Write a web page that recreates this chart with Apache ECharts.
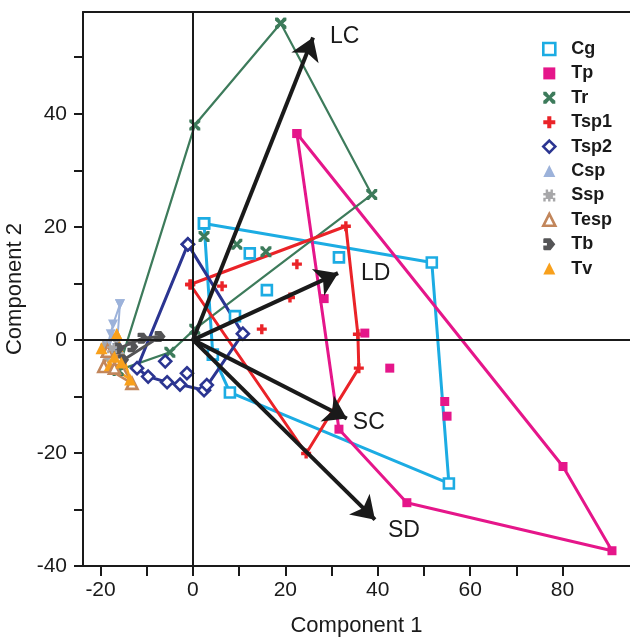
<!DOCTYPE html>
<html><head><meta charset="utf-8">
<script src="https://cdn.jsdelivr.net/npm/echarts@6/dist/echarts.min.js"></script>
<style>html,body{margin:0;padding:0;background:#fff}#c{width:630px;height:638px}</style>
</head><body><div id="c"></div>
<script>
// ---- data ----
var groups = ['Cg','Tp','Tr','Tsp1','Tsp2','Csp','Ssp','Tesp','Tb','Tv'];
var CgHull = [[2.4,20.6],[51.7,13.7],[55.4,-25.4],[8,-9.3],[4.3,-2.6],[2.4,20.6]];
var CgPts = [[12.3,15.3],[31.6,14.6],[16,8.8],[9.1,4.2]];
var TpHull = [[22.5,36.5],[80.1,-22.4],[90.7,-37.3],[46.3,-28.8],[31.6,-15.8],[22.5,36.5]];
var TpPts = [[28.4,7.3],[37.2,1.2],[42.6,-5],[54.5,-10.9],[55,-13.5]];
var TrHull = [[19,56],[38.7,25.7],[0.4,1.9],[-5,-2.2],[-16.2,-5.4],[0.4,38],[19,56]];
var TrPts = [[2.4,18.3],[9.5,16.9],[15.8,15.6]];
var Tsp1Hull = [[-0.6,9.8],[33.1,20.1],[35.7,1],[35.9,-5],[24.5,-20.1],[-0.6,9.8]];
var Tsp1Pts = [[6.3,9.5],[14.9,1.9],[21,7.5],[22.5,13.4]];
var Tsp2Hull = [[-1.1,16.9],[10.8,1.1],[2.4,-8.9],[-2.8,-7.9],[-5.6,-7.5],[-9.7,-6.5],[-12.1,-5],[-1.1,16.9]];
var Tsp2Pts = [[-6,-3.8],[-1.3,-5.9],[3,-8]];
var CspHull = [[-15.8,6.3],[-17.3,2.7],[-18.5,-1],[-16.5,-1.5],[-15.8,6.3]];
var CspPts = [[-17.8,1]];
var SspHull = [[-17,0.5],[-19,-1],[-18.5,-3],[-16,-2.5],[-17,0.5]];
var SspPts = [[-17.5,-1.5]];
var TespHull = [[-18.5,-2],[-19.3,-4.7],[-13.2,-7.7],[-16,-3.5],[-18.5,-2]];
var TespPts = [[-17,-5]];
var TbHull = [[-16,-1.5],[-10.8,0.3],[-7.1,0.6],[-15,-3.5],[-16,-1.5]];
var TbPts = [[-13,-1.2]];
var TvHull = [[-16.5,1],[-19.8,-1.5],[-18,-4.5],[-13.6,-7],[-16.5,1]];
var TvPts = [[-17,-3],[-15.5,-4]];
var loadNames = ['LC','LD','SC','SD'];
var loadEnds = [[26,53.5],[31.4,11.8],[33.3,-13.9],[39.4,-31.8]];
var xTicks = [-20,-10,0,10,20,30,40,50,60,70,80];
var xLabels = [-20,0,20,40,60,80];
var yTicks = [-40,-30,-20,-10,0,10,20,30,40,50];
var yLabels = [-40,-20,0,20,40];

// ---- styles ----
var FONT = 'Liberation Sans, Arial, sans-serif';
var sym = {
  x: 'path://M0,0L2.5,0L5,3L7.5,0L10,0L10,2.5L7,5L10,7.5L10,10L7.5,10L5,7L2.5,10L0,10L0,7.5L3,5L0,2.5Z',
  plus: 'path://M3.3,0H6.7V3.3H10V6.7H6.7V10H3.3V6.7H0V3.3H3.3Z',
  tb: 'path://M0,1Q0,0 1,0H6L10,5L6,10H1Q0,10 0,9V6H3V4H0Z',
  ssp: 'path://M2,0H4V2H6V0H8V3H10V5H8V7H10V10H8V8H6V10H4V8H2V10H0V7H2V5H0V3H2Z'
};
var cfg = {
  Cg:   {hull:CgHull, pts:CgPts, color:'#1cace3', symbol:'rect', size:10, open:true, lw:3},
  Tp:   {hull:TpHull, pts:TpPts, color:'#e5168a', symbol:'rect', size:9, open:false, lw:3},
  Tr:   {hull:TrHull, pts:TrPts, color:'#3d7b5b', symbol:sym.x, size:11, open:false, lw:2.2},
  Tsp1: {hull:Tsp1Hull, pts:Tsp1Pts, color:'#ea2328', symbol:sym.plus, size:10, open:false, lw:3},
  Tsp2: {hull:Tsp2Hull, pts:Tsp2Pts, color:'#2b3591', symbol:'diamond', size:12, open:true, lw:3},
  Csp:  {hull:CspHull, pts:CspPts, color:'#9cb2da', symbol:'triangle', rotate:180, size:10, open:false, lw:2},
  Ssp:  {hull:SspHull, pts:SspPts, color:'#a7a7a9', symbol:sym.ssp, size:10, open:false, lw:2},
  Tesp: {hull:TespHull, pts:TespPts, color:'#c2865b', symbol:'triangle', size:11, open:true, lw:2.5},
  Tb:   {hull:TbHull, pts:TbPts, color:'#545456', symbol:sym.tb, size:11, open:false, lw:3},
  Tv:   {hull:TvHull, pts:TvPts, color:'#f8a01c', symbol:'triangle', size:12, open:false, lw:2.5}
};

function styleOf(c){
  return c.open ? {color:'#fff', borderColor:c.color, borderWidth:2.6, opacity:1} : {color:c.color, opacity:1};
}
var series = [];
// zero lines
series.push({type:'line', data:[], silent:true, z:1,
  markLine:{silent:true, symbol:'none', label:{show:false}, animation:false,
    lineStyle:{color:'#1a1a1a', width:2, type:'solid'},
    data:[{xAxis:0},{yAxis:0}]}});
groups.forEach(function(g){
  var c = cfg[g];
  series.push({name:g+'_hull', type:'line', data:c.hull, symbol:c.symbol, symbolSize:c.size,
    symbolRotate:c.rotate||0, showSymbol:true, itemStyle:styleOf(c),
    lineStyle:{color:c.color, width:c.lw}, silent:true, z:3, animation:false});
  series.push({name:g, type:'scatter', data:c.pts, symbol:c.symbol, symbolSize:c.size,
    symbolRotate:c.rotate||0, itemStyle:styleOf(c), z:4, animation:false});
});
// loadings arrows
series.push({type:'lines', coordinateSystem:'cartesian2d', z:6, animation:false,
  symbol:['none','arrow'], symbolSize:[15,22],
  lineStyle:{color:'#1a1a1a', width:4, opacity:1, curveness:0},
  data: loadEnds.map(function(e){return {coords:[[0,0],e]};})});
var labPos = {LC:[17,-1], LD:[23,0], SC:[6,4], SD:[13,11]};
series.push({type:'scatter', z:7, symbolSize:0, animation:false, silent:true,
  itemStyle:{opacity:1},
  data: loadEnds.map(function(e,i){return {value:e, name:loadNames[i],
    label:{show:true, position:labPos[loadNames[i]], align:'left', verticalAlign:'middle',
      formatter:loadNames[i], color:'#1a1a1a', fontSize:23, fontFamily:FONT}};})});

var legendData = groups.map(function(g){
  var c = cfg[g];
  return {name:g, icon:c.symbol, itemStyle:styleOf(c)};
});

var chart = echarts.init(document.getElementById('c'));
chart.setOption({
  animation:false,
  backgroundColor:'#fff',
  grid:{left:83, right:0, top:12, bottom:72, outerBoundsMode:'none', containLabel:false},
  legend:{orient:'vertical', left:537, top:35, itemGap:6.4, itemWidth:12, itemHeight:12,
    data:legendData, selectedMode:false,
    textStyle:{fontSize:18, fontWeight:'bold', color:'#1a1a1a', fontFamily:FONT, padding:[0,0,0,11]}},
  xAxis:[{type:'value', min:-23.8, max:94.6, position:'bottom',
    name:'Component 1', nameLocation:'middle', nameGap:49,
    nameTextStyle:{fontSize:22, color:'#1a1a1a', fontFamily:FONT},
    axisLine:{show:true, onZero:false, lineStyle:{color:'#1a1a1a', width:2}},
    axisTick:{show:true, length:10, customValues:xTicks, lineStyle:{color:'#1a1a1a', width:2}},
    axisLabel:{customValues:xLabels, fontSize:21, color:'#1a1a1a', fontFamily:FONT, margin:14},
    splitLine:{show:false}},
    {type:'value', min:-23.8, max:94.6, position:'top',
    axisLine:{show:true, onZero:false, lineStyle:{color:'#1a1a1a', width:2}},
    axisTick:{show:false}, axisLabel:{show:false}, splitLine:{show:false}}],
  yAxis:{type:'value', min:-40, max:58,
    name:'Component 2', nameLocation:'middle', nameGap:51, nameRotate:90,
    nameTextStyle:{fontSize:22, color:'#1a1a1a', fontFamily:FONT},
    axisLine:{show:true, onZero:false, lineStyle:{color:'#1a1a1a', width:2}},
    axisTick:{show:true, length:9, customValues:yTicks, lineStyle:{color:'#1a1a1a', width:2}},
    axisLabel:{customValues:yLabels, fontSize:21, color:'#1a1a1a', fontFamily:FONT, margin:16},
    splitLine:{show:false}},
  series:series
});
</script></body></html>
